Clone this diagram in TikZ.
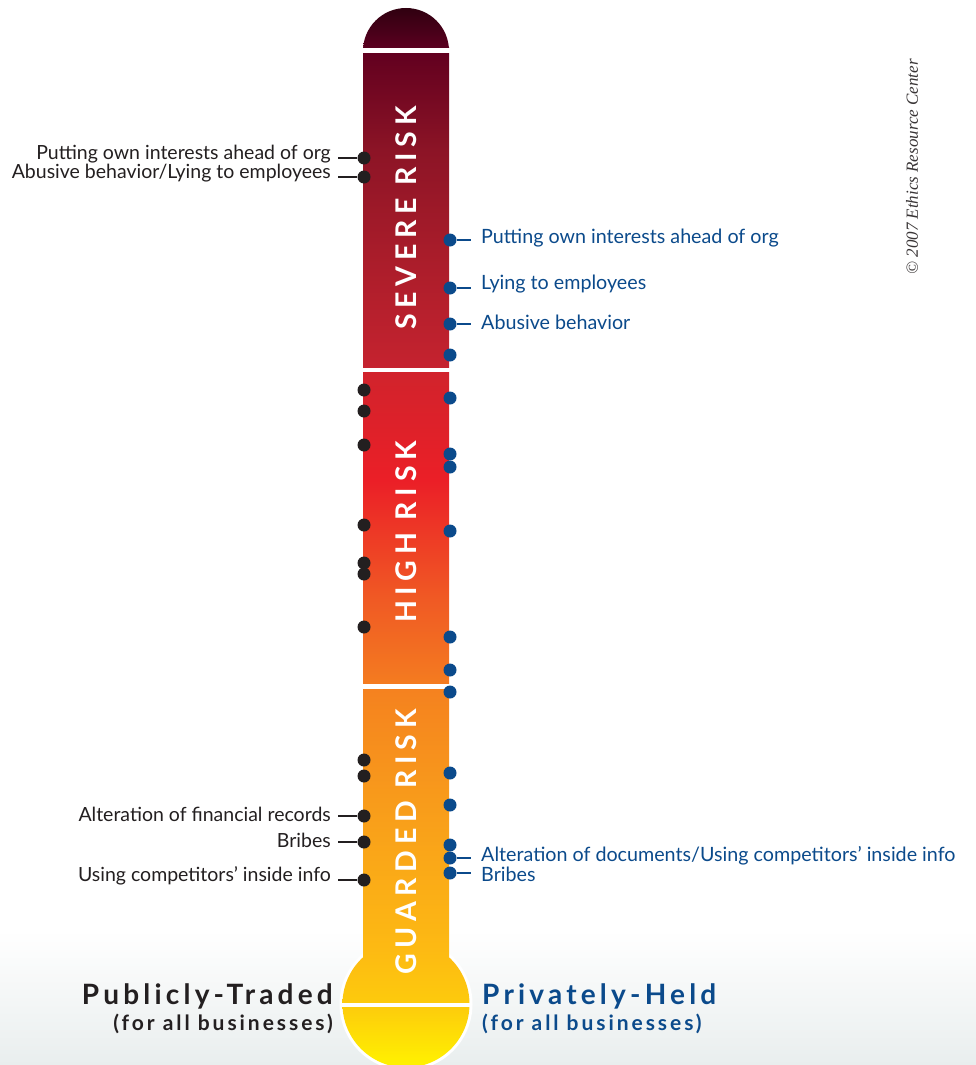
\documentclass[tikz,border=0pt]{standalone}
\usepackage{fontspec}
\setmainfont{Lato}
\newfontfamily\tubefont[LetterSpace=20]{Lato}
\newfontfamily\bigfont[LetterSpace=15]{Lato}
\newfontfamily\smallfont[LetterSpace=14]{Lato}
\newfontfamily\copyfont{Liberation Serif}
\definecolor{dotblack}{HTML}{231F20}
\definecolor{dotblue}{HTML}{0B4A8B}
\definecolor{bggray}{HTML}{E9EEEE}
\definecolor{ca}{HTML}{300010}
\definecolor{cb}{HTML}{5A0020}
\definecolor{cc}{HTML}{62001F}
\definecolor{cd}{HTML}{8C1426}
\definecolor{ce}{HTML}{A81C2A}
\definecolor{cf}{HTML}{C5232F}
\definecolor{cg}{HTML}{D1232C}
\definecolor{ch}{HTML}{EB1F27}
\definecolor{ci}{HTML}{F05A24}
\definecolor{cj}{HTML}{F47C20}
\definecolor{ck}{HTML}{F5821F}
\definecolor{cl}{HTML}{F89B1B}
\definecolor{cm}{HTML}{FDBA13}
\definecolor{cn}{HTML}{FDCB0C}
\definecolor{co}{HTML}{FFF100}
\pgfdeclareverticalshading{thermo}{100bp}{color(0bp)=(co); color(25bp)=(co); color(27.84bp)=(cn); color(30.44bp)=(cm); color(37.54bp)=(cl); color(42.74bp)=(ck); color(42.98bp)=(cj); color(47bp)=(ci); color(52.67bp)=(ch); color(57.78bp)=(cg); color(57.97bp)=(cf); color(63.55bp)=(ce); color(68.28bp)=(cd); color(72.87bp)=(cc); color(73.11bp)=(cb); color(75bp)=(ca); color(100bp)=(ca)}
\newcommand\thermoshade{\shade[shading=thermo] (330,8) rectangle (480,1065);}
\begin{document}
\begin{tikzpicture}[x=1pt,y=-1pt,
  bdot/.style={circle,fill=dotblack,inner sep=0pt,minimum size=13pt},
  udot/.style={circle,fill=dotblue,inner sep=0pt,minimum size=13pt},
  ltxt/.style={font=\fontsize{19.5}{22}\selectfont,text=dotblack,anchor=east,inner xsep=7pt,inner ysep=0pt},
  rtxt/.style={font=\fontsize{19.7}{22}\selectfont,text=dotblue,anchor=west,inner xsep=10pt,inner ysep=0pt},
  lline/.style={draw=dotblack,line width=1.2pt},
  rline/.style={draw=dotblue,line width=1.2pt},
  risk/.style={rotate=90,text=white,font=\tubefont\bfseries\fontsize{28.5}{28}\selectfont,inner sep=0pt},
  bigname/.style={font=\bigfont\bfseries\fontsize{28}{30}\selectfont,inner sep=0pt},
  smallname/.style={font=\smallfont\bfseries\fontsize{21}{23}\selectfont,inner sep=0pt}]
\useasboundingbox (0,0) rectangle (976,1065);
% background
\shade[top color=white,bottom color=bggray] (0,930) rectangle (976,1065);
% bulb outline
\fill[white] (406,1004) circle (66.5);
% thermometer body
\begin{scope}\clip (406,51) circle (43);\thermoshade\end{scope}
\begin{scope}\clip (363,48) rectangle (449,1000);\thermoshade\end{scope}
\begin{scope}\clip (406,1004) circle (63.5);\thermoshade\end{scope}
% separators
\fill[white] (355,48) rectangle (457,53);
\fill[white] (355,368) rectangle (457,372);
\fill[white] (355,684) rectangle (457,689);
\fill[white] (340,1003) rectangle (472,1007);
% tube labels
\node[risk] (severe) at (406,218) {SEVERE RISK};
\node[risk] (high) at (406,532) {HIGH RISK};
\node[risk] (guarded) at (406,842) {GUARDED RISK};
% left dots
\foreach \n/\y in {1/158,2/177,3/390,4/411,5/445,6/525,7/563,8/574,9/627,10/760,11/776,12/816,13/842,14/880}
  \node[bdot] (l\n) at (364,\y) {};
% right dots
\foreach \n/\y in {1/240,2/288,3/324,4/355,5/398,6/454,7/467,8/531,9/637,10/670,11/692,12/773,13/805,14/845,15/858,16/873}
  \node[udot] (r\n) at (450,\y) {};
% left labels
\node[ltxt] (L1) at (338,154) {Putting own interests ahead of org};
\node[ltxt] (L2) at (338,173) {Abusive behavior/Lying to employees};
\node[ltxt] (L12) at (338,814) {Alteration of financial records};
\node[ltxt] (L13) at (338,840) {Bribes};
\node[ltxt] (L14) at (338,876) {Using competitors’ inside info};
\foreach \n in {1,2,12,13,14} \draw[lline] (l\n) -- (L\n.east |- l\n);
% right labels
\node[rtxt] (R1) at (471,238) {Putting own interests ahead of org};
\node[rtxt] (R2) at (471,284) {Lying to employees};
\node[rtxt] (R3) at (471,322) {Abusive behavior};
\node[rtxt] (R15) at (471,856) {Alteration of documents/Using competitors’ inside info};
\node[rtxt] (R16) at (471,874) {Bribes};
\foreach \n in {1,2,3,15,16} \draw[rline] (r\n) -- (R\n.west |- r\n);
% bottom headings
\node[bigname,text=dotblack,anchor=east] (pub) at (333,996) {Publicly-Traded};
\node[smallname,text=dotblack,anchor=east] (pubsub) at (333,1024) {(for all businesses)};
\node[bigname,text=dotblue,anchor=west] (priv) at (482,996) {Privately-Held};
\node[smallname,text=dotblue,anchor=west] (privsub) at (482,1024) {(for all businesses)};
% copyright
\node[rotate=90,font=\copyfont\itshape\fontsize{17}{18}\selectfont,text=dotblack!90] (copy) at (912,167) {© 2007 Ethics Resource Center};
\end{tikzpicture}
\end{document}
